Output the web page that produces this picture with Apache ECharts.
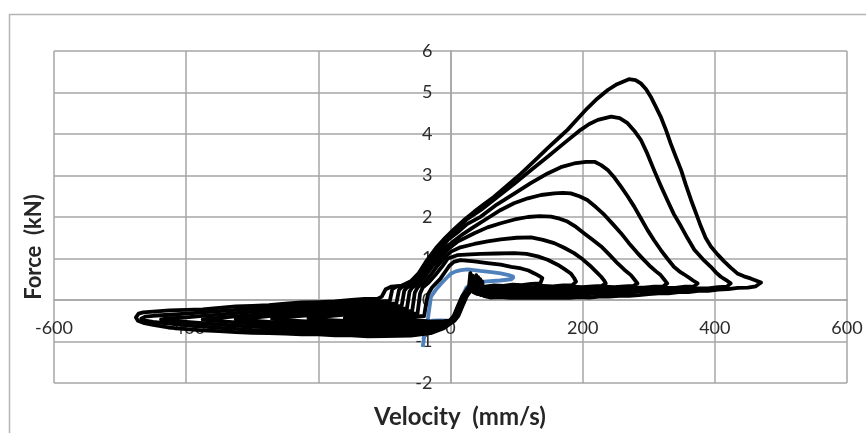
<!DOCTYPE html>
<html>
<head>
<meta charset="utf-8">
<script src="https://cdn.jsdelivr.net/npm/echarts@6/dist/echarts.min.js"></script>
<style>
html,body{margin:0;padding:0;background:#fff;}
#chart{width:866px;height:433px;}
</style>
</head>
<body>
<div id="chart"></div>
<script>
// Axis ranges and titles
var xMin = -600, xMax = 600, xStep = 200;
var yMin = -2, yMax = 6, yStep = 1;
var xTitle = 'Velocity  (mm/s)';
var yTitle = 'Force  (kN)';

// Force–velocity loops: [velocity mm/s, force kN]
var loop8 = [[-476,-0.42],[-472,-0.33],[-465,-0.3],[-450,-0.28],[-425,-0.25],[-400,-0.24],[-375,-0.225],[-350,-0.19],[-325,-0.155],[-300,-0.14],[-275,-0.125],[-250,-0.09],[-225,-0.06],[-200,-0.05],[-175,-0.035],[-150,0.0],[-130,0.025],[-110,0.03],[-104,0.08],[-98,0.26],[-90,0.32],[-75,0.34],[-60,0.45],[-48,0.65],[-36,0.95],[-22,1.25],[-8,1.5],[5,1.7],[20,1.92],[36,2.13],[50,2.3],[66,2.49],[85,2.75],[107,3.05],[127,3.35],[147,3.66],[162,3.88],[177,4.1],[192,4.36],[207,4.62],[222,4.85],[238,5.06],[252,5.2],[270,5.32],[280,5.3],[288,5.22],[296,5.08],[303,4.9],[310,4.68],[318,4.42],[326,4.1],[333,3.78],[341,3.45],[349,3.13],[356,2.78],[364,2.41],[372,2.07],[379,1.77],[386,1.5],[394,1.29],[404,1.1],[414,0.93],[424,0.78],[434,0.64],[444,0.57],[454,0.52],[462,0.47],[470,0.42],[462,0.33],[450,0.3],[435,0.29],[420,0.26],[405,0.25],[390,0.22],[375,0.22],[360,0.19],[345,0.19],[330,0.16],[315,0.16],[300,0.14],[285,0.12],[270,0.1],[255,0.1],[240,0.08],[225,0.08],[210,0.06],[195,0.07],[180,0.05],[165,0.06],[150,0.05],[135,0.06],[120,0.05],[105,0.06],[90,0.05],[75,0.07],[60,0.06],[50,0.1],[48,0.45],[46,0.12],[36,0.2],[33,0.28],[25,0.1],[18,-0.15],[12,-0.38],[6,-0.5],[-10,-0.68],[-30,-0.8],[-60,-0.86],[-100,-0.87],[-125,-0.875],[-150,-0.85],[-175,-0.85],[-200,-0.83],[-225,-0.83],[-250,-0.81],[-275,-0.795],[-300,-0.79],[-325,-0.775],[-350,-0.75],[-375,-0.73],[-400,-0.7],[-425,-0.665],[-450,-0.6],[-465,-0.55],[-473,-0.5],[-476,-0.42]];

var loop7 = [[-468,-0.45],[-462,-0.4],[-450,-0.38],[-425,-0.355],[-400,-0.33],[-375,-0.3],[-350,-0.27],[-325,-0.24],[-300,-0.21],[-275,-0.18],[-250,-0.155],[-225,-0.13],[-200,-0.11],[-175,-0.085],[-150,-0.057],[-125,-0.04],[-100,-0.03],[-92,-0.03],[-88,0.26],[-82,0.32],[-70,0.35],[-56,0.48],[-44,0.72],[-32,0.98],[-18,1.25],[-4,1.5],[10,1.72],[25,1.95],[46,2.17],[70,2.47],[97,2.81],[122,3.13],[147,3.45],[172,3.78],[197,4.1],[210,4.24],[223,4.34],[243,4.42],[256,4.38],[268,4.26],[278,4.08],[288,3.86],[298,3.52],[308,3.13],[318,2.76],[328,2.41],[338,2.07],[349,1.77],[359,1.48],[369,1.21],[382,0.98],[394,0.8],[402,0.66],[409,0.56],[417,0.48],[424,0.4],[418,0.32],[405,0.31],[390,0.28],[375,0.28],[360,0.25],[345,0.25],[330,0.22],[315,0.22],[300,0.2],[285,0.2],[270,0.17],[255,0.18],[240,0.15],[225,0.16],[210,0.14],[195,0.15],[180,0.13],[165,0.14],[150,0.12],[135,0.13],[120,0.11],[105,0.12],[90,0.1],[75,0.12],[60,0.1],[47,0.13],[45,0.5],[43,0.14],[35,0.2],[32,0.28],[24,0.1],[17,-0.15],[11,-0.38],[5,-0.5],[-10,-0.655],[-30,-0.76],[-60,-0.8],[-100,-0.81],[-125,-0.805],[-150,-0.8],[-175,-0.785],[-200,-0.77],[-225,-0.76],[-250,-0.745],[-275,-0.73],[-300,-0.72],[-325,-0.695],[-350,-0.67],[-375,-0.64],[-400,-0.61],[-425,-0.57],[-450,-0.53],[-462,-0.5],[-468,-0.45]];

var loop6 = [[-438,-0.47],[-430,-0.44],[-412,-0.43],[-400,-0.42],[-375,-0.385],[-350,-0.35],[-325,-0.315],[-300,-0.28],[-275,-0.25],[-250,-0.22],[-225,-0.195],[-200,-0.17],[-175,-0.14],[-150,-0.114],[-125,-0.1],[-100,-0.09],[-82,-0.09],[-78,0.24],[-74,0.31],[-62,0.36],[-50,0.52],[-38,0.78],[-26,1.02],[-14,1.22],[-4,1.45],[10,1.62],[25,1.83],[46,2.01],[70,2.3],[97,2.57],[122,2.82],[147,3.05],[167,3.2],[187,3.29],[205,3.33],[218,3.33],[228,3.25],[238,3.13],[248,2.95],[258,2.73],[268,2.5],[278,2.25],[288,1.97],[298,1.69],[308,1.44],[318,1.21],[328,1.0],[338,0.8],[348,0.67],[359,0.56],[367,0.47],[374,0.4],[368,0.32],[355,0.32],[340,0.29],[325,0.29],[310,0.27],[295,0.27],[280,0.24],[265,0.25],[250,0.22],[235,0.23],[220,0.2],[205,0.21],[190,0.19],[175,0.2],[160,0.17],[145,0.18],[130,0.16],[115,0.17],[100,0.15],[85,0.16],[70,0.14],[56,0.16],[44,0.14],[42,0.55],[40,0.15],[34,0.2],[31,0.28],[23,0.1],[16,-0.15],[10,-0.38],[4,-0.5],[-10,-0.63],[-30,-0.72],[-60,-0.75],[-100,-0.76],[-125,-0.75],[-150,-0.74],[-175,-0.725],[-200,-0.71],[-225,-0.695],[-250,-0.68],[-275,-0.66],[-300,-0.64],[-325,-0.615],[-350,-0.59],[-375,-0.56],[-400,-0.53],[-420,-0.51],[-430,-0.5],[-438,-0.47]];

var loop5 = [[-375,-0.47],[-365,-0.45],[-350,-0.43],[-325,-0.395],[-300,-0.36],[-275,-0.32],[-250,-0.285],[-225,-0.255],[-200,-0.23],[-175,-0.2],[-150,-0.17],[-125,-0.16],[-100,-0.15],[-74,-0.15],[-70,0.22],[-66,0.3],[-55,0.38],[-44,0.55],[-32,0.8],[-20,1.02],[-8,1.25],[5,1.42],[20,1.6],[36,1.77],[56,1.97],[76,2.17],[96,2.33],[117,2.45],[137,2.53],[157,2.57],[170,2.58],[182,2.57],[195,2.5],[207,2.41],[220,2.24],[233,2.05],[245,1.84],[258,1.61],[270,1.37],[283,1.13],[293,0.96],[303,0.8],[311,0.69],[318,0.6],[323,0.5],[328,0.4],[322,0.33],[308,0.32],[293,0.3],[278,0.3],[263,0.27],[248,0.28],[233,0.25],[218,0.26],[203,0.23],[188,0.24],[173,0.21],[158,0.22],[143,0.2],[128,0.21],[113,0.19],[98,0.2],[83,0.18],[68,0.19],[54,0.17],[41,0.2],[39,0.6],[37,0.18],[33,0.22],[30,0.28],[22,0.1],[15,-0.15],[9,-0.38],[3,-0.5],[-10,-0.6],[-30,-0.68],[-60,-0.7],[-100,-0.7],[-125,-0.69],[-150,-0.68],[-175,-0.665],[-200,-0.65],[-225,-0.63],[-250,-0.615],[-275,-0.595],[-300,-0.57],[-325,-0.54],[-350,-0.51],[-365,-0.49],[-375,-0.47]];

var loop4 = [[-325,-0.47],[-315,-0.45],[-300,-0.43],[-275,-0.39],[-250,-0.35],[-225,-0.32],[-200,-0.29],[-175,-0.26],[-150,-0.23],[-125,-0.22],[-100,-0.21],[-66,-0.21],[-62,0.2],[-58,0.3],[-48,0.4],[-38,0.58],[-27,0.82],[-15,1.02],[-4,1.22],[10,1.4],[36,1.61],[56,1.75],[76,1.85],[97,1.94],[117,2.0],[135,2.02],[152,2.01],[165,1.96],[177,1.89],[190,1.76],[202,1.61],[215,1.45],[228,1.29],[240,1.1],[253,0.88],[263,0.73],[273,0.6],[278,0.5],[283,0.4],[277,0.34],[263,0.33],[248,0.31],[233,0.32],[218,0.29],[203,0.3],[188,0.27],[173,0.28],[158,0.25],[143,0.26],[128,0.24],[113,0.25],[98,0.22],[83,0.23],[68,0.21],[52,0.22],[38,0.24],[36,0.52],[34,0.22],[29,0.28],[21,0.1],[14,-0.15],[8,-0.38],[2,-0.5],[-10,-0.58],[-30,-0.64],[-60,-0.64],[-100,-0.64],[-125,-0.635],[-150,-0.63],[-175,-0.61],[-200,-0.59],[-225,-0.57],[-250,-0.55],[-275,-0.525],[-300,-0.5],[-315,-0.49],[-325,-0.47]];

var loop3 = [[-270,-0.45],[-262,-0.43],[-250,-0.415],[-225,-0.38],[-200,-0.35],[-175,-0.315],[-150,-0.285],[-125,-0.275],[-100,-0.27],[-58,-0.27],[-54,0.18],[-50,0.3],[-40,0.42],[-30,0.6],[-20,0.82],[-10,1.0],[0,1.16],[15,1.27],[36,1.35],[56,1.41],[76,1.46],[100,1.5],[122,1.51],[140,1.45],[157,1.37],[172,1.26],[187,1.13],[200,0.98],[213,0.8],[221,0.67],[228,0.56],[232,0.48],[235,0.4],[229,0.34],[215,0.33],[200,0.31],[185,0.32],[170,0.29],[155,0.3],[140,0.27],[125,0.28],[110,0.26],[95,0.27],[80,0.25],[66,0.26],[50,0.24],[36,0.27],[34,0.58],[32,0.26],[28,0.28],[20,0.1],[13,-0.15],[7,-0.38],[1,-0.5],[-10,-0.55],[-30,-0.6],[-60,-0.59],[-100,-0.59],[-125,-0.58],[-150,-0.57],[-175,-0.55],[-200,-0.53],[-225,-0.51],[-250,-0.485],[-262,-0.47],[-270,-0.45]];

var loop2 = [[-215,-0.44],[-208,-0.42],[-200,-0.41],[-175,-0.375],[-150,-0.34],[-125,-0.335],[-100,-0.33],[-50,-0.33],[-46,0.16],[-42,0.3],[-33,0.42],[-23,0.6],[-13,0.8],[-4,1.0],[10,1.08],[30,1.1],[46,1.11],[70,1.12],[97,1.13],[115,1.11],[132,1.05],[147,0.97],[162,0.85],[172,0.75],[182,0.64],[187,0.53],[190,0.44],[184,0.35],[170,0.35],[155,0.33],[140,0.34],[125,0.31],[110,0.32],[95,0.29],[80,0.3],[65,0.28],[50,0.29],[34,0.28],[32,0.6],[30,0.27],[27,0.28],[19,0.1],[12,-0.15],[6,-0.38],[0,-0.5],[-10,-0.53],[-30,-0.56],[-60,-0.53],[-100,-0.53],[-125,-0.52],[-150,-0.51],[-175,-0.49],[-200,-0.47],[-208,-0.455],[-215,-0.44]];

var loop1 = [[-160,-0.43],[-155,-0.41],[-150,-0.4],[-125,-0.395],[-100,-0.39],[-70,-0.39],[-40,-0.39],[-37,-0.1],[-34,0.14],[-28,0.3],[-22,0.4],[-15,0.52],[-8,0.68],[-2,0.82],[5,0.92],[15,0.96],[36,0.93],[56,0.89],[76,0.85],[92,0.8],[107,0.76],[118,0.71],[127,0.64],[134,0.58],[139,0.53],[142,0.5],[136,0.4],[122,0.39],[108,0.36],[94,0.37],[80,0.34],[66,0.35],[52,0.32],[32,0.33],[30,0.65],[28,0.32],[26,0.28],[18,0.1],[11,-0.15],[5,-0.38],[-1,-0.5],[-10,-0.51],[-30,-0.52],[-60,-0.47],[-100,-0.47],[-125,-0.465],[-150,-0.455],[-156,-0.445],[-160,-0.43]];

var blueLoop = [[-42,-1.13],[-40,-0.9],[-37,-0.68],[-34.5,-0.48],[-32,-0.2],[-29.5,0.08],[-22,0.25],[-14,0.4],[-6,0.53],[1,0.64],[8,0.69],[16,0.72],[26,0.74],[45,0.7],[62,0.67],[76,0.64],[88,0.6],[96,0.56],[92,0.5],[75,0.47],[55,0.45],[35,0.42],[24,0.3],[17,0.05],[11,-0.25],[5,-0.43],[-3,-0.5],[-15,-0.49],[-28,-0.5],[-34.5,-0.52],[-38,-0.7],[-41,-0.95]];

var blackLoops = [loop1, loop2, loop3, loop4, loop5, loop6, loop7, loop8];

var chart = echarts.init(document.getElementById('chart'), null, {renderer: 'canvas'});
var font = 'Lato, "Open Sans", "DejaVu Sans", sans-serif';
var gridColor = '#a6a6a6';

var series = [{
  type: 'line', data: blueLoop, showSymbol: false, symbol: 'none',
  lineStyle: {color: '#4f81bd', width: 3.8}, itemStyle: {color: '#4f81bd'}, z: 2
}];
blackLoops.forEach(function (d) {
  series.push({
    type: 'line', data: d, showSymbol: false, symbol: 'none',
    lineStyle: {color: '#000', width: 3.8, join: 'round', cap: 'round'}, itemStyle: {color: '#000'}, z: 3
  });
});

chart.setOption({
  animation: false,
  backgroundColor: '#fff',
  grid: {left: 54, right: 19, top: 51, bottom: 50, containLabel: false},
  xAxis: {
    type: 'value', min: xMin, max: xMax, interval: xStep,
    axisLine: {show: true, onZero: false, lineStyle: {color: gridColor, width: 1.5}},
    axisTick: {show: false},
    axisLabel: {margin: 19, fontSize: 18, color: '#2b2b2b', fontFamily: font},
    splitLine: {show: true, lineStyle: {color: gridColor, width: 1.5}}
  },
  yAxis: {
    type: 'value', min: yMin, max: yMax, interval: yStep,
    axisLine: {show: true, onZero: false, lineStyle: {color: gridColor, width: 1.5}},
    axisTick: {show: false},
    axisLabel: {margin: 18, fontSize: 18, color: '#2b2b2b', fontFamily: font},
    splitLine: {show: true, lineStyle: {color: gridColor, width: 1.5}}
  },
  graphic: [
    {type: 'rect', left: 7, top: 12, z: -10, silent: true,
     shape: {x: 0, y: 0, width: 900, height: 500},
     style: {fill: 'none', stroke: '#b4b4b4', lineWidth: 1.5}},
    {type: 'text', x: 460, y: 417, z: 10,
     style: {text: xTitle, font: 'bold 24px ' + font, fill: '#262626', align: 'center', verticalAlign: 'middle'}},
    {type: 'text', x: 34, y: 247, rotation: Math.PI / 2, z: 10,
     style: {text: yTitle, font: 'bold 22px ' + font, fill: '#262626', align: 'center', verticalAlign: 'middle'}}
  ],
  series: series
});

// Move both axes (line and labels) to cross at the origin, as in the reference.
var origin = chart.convertToPixel({gridIndex: 0}, [0, 0]);
var corner = chart.convertToPixel({gridIndex: 0}, [xMin, yMin]);
chart.setOption({
  xAxis: {offset: origin[1] - corner[1]},
  yAxis: {offset: corner[0] - origin[0]}
});
</script>
</body>
</html>
